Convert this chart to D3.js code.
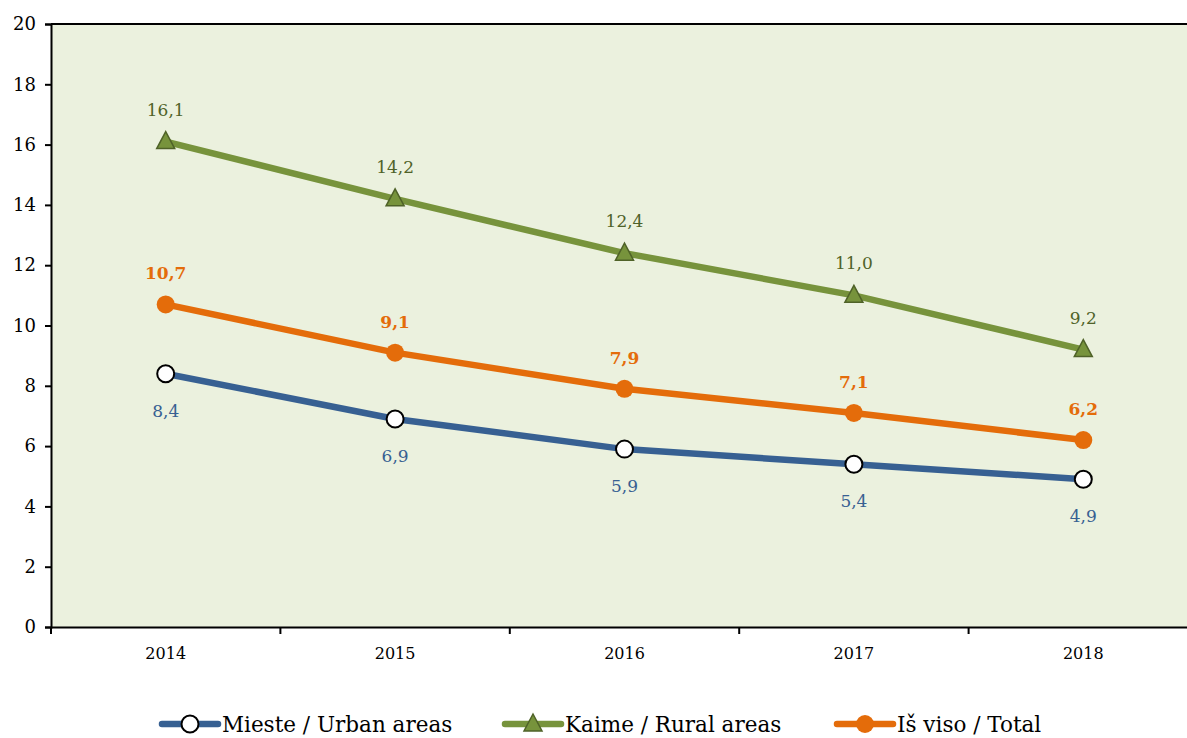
<!DOCTYPE html>
<html>
<head>
<meta charset="utf-8">
<script src="https://cdn.jsdelivr.net/npm/d3@7"></script>
<style>
  body { margin: 0; background: #fff; }
  svg { display: block; }
  svg text { font-family: "DejaVu Serif", "Liberation Serif", serif; }
</style>
</head>
<body>
<svg></svg>
<script>
document.addEventListener("DOMContentLoaded", function() {

    var width = 1187, height = 738;
    var left = 51, top = 24, bottom = 627, right = 1198;

    var years = ["2014", "2015", "2016", "2017", "2018"];
    var urban = [8.4, 6.9, 5.9, 5.4, 4.9];
    var rural = [16.1, 14.2, 12.4, 11.0, 9.2];
    var total = [10.7, 9.1, 7.9, 7.1, 6.2];
    var yTicks = [0, 2, 4, 6, 8, 10, 12, 14, 16, 18, 20];

    var series = [
        { name: "Mieste / Urban areas", values: urban, color: "#376092", label: "#376092", marker: "ring", dy: 43, bold: false },
        { name: "Kaime / Rural areas", values: rural, color: "#77933C", label: "#4F6228", marker: "tri", dy: -26, bold: false },
        { name: "Iš viso / Total", values: total, color: "#E46C0A", label: "#E46C0A", marker: "dot", dy: -25, bold: true }
    ];

    var svg = d3.select("svg").attr("width", width).attr("height", height);

    var x = d3.scaleBand().domain(years).range([left, right]);
    var y = d3.scaleLinear().domain([0, 20]).range([bottom, top]);

    // plot background
    svg.append("rect")
        .attr("x", left).attr("y", top)
        .attr("width", right - left).attr("height", bottom - top)
        .attr("fill", "#EBF1DE");

    svg.append("line")
        .attr("x1", left).attr("x2", right)
        .attr("y1", top).attr("y2", top)
        .attr("stroke", "#000").attr("stroke-width", 2);

    // y axis
    var yAxis = svg.append("g")
        .attr("transform", `translate(${left},0)`)
        .call(d3.axisLeft(y).tickValues(yTicks).tickSize(6).tickPadding(9));
    yAxis.select(".domain").attr("stroke-width", 2);
    yAxis.selectAll(".tick line").attr("stroke-width", 2);
    yAxis.selectAll("text").style("font-size", "18px").attr("fill", "#000");

    // x axis with ticks at category boundaries
    var xAxis = svg.append("g")
        .attr("transform", `translate(0,${bottom})`)
        .call(d3.axisBottom(x).tickSize(0).tickPadding(21));
    xAxis.select(".domain").attr("stroke-width", 2);
    xAxis.selectAll("text").style("font-size", "16px").attr("fill", "#000");
    xAxis.selectAll(".bound")
        .data(years)
        .enter().append("line")
        .attr("x1", d => x(d)).attr("x2", d => x(d))
        .attr("y1", 0).attr("y2", 7)
        .attr("stroke", "#000").attr("stroke-width", 2);

    var line = d3.line()
        .x((d, i) => x(years[i]) + x.bandwidth() / 2)
        .y(d => y(d));

    function drawMarker(g, type, color, cx, cy) {
        if (type === "ring") {
            g.append("circle").attr("cx", cx).attr("cy", cy).attr("r", 8.5)
                .attr("fill", "#fff").attr("stroke", "#000").attr("stroke-width", 2);
        } else if (type === "dot") {
            g.append("circle").attr("cx", cx).attr("cy", cy).attr("r", 9)
                .attr("fill", color);
        } else {
            g.append("path")
                .attr("d", `M${cx},${cy - 10}L${cx + 9},${cy + 7}L${cx - 9},${cy + 7}Z`)
                .attr("fill", color).attr("stroke", "#4F6228").attr("stroke-width", 1.5);
        }
    }

    series.forEach(function(s) {
        var g = svg.append("g");
        g.append("path")
            .datum(s.values)
            .attr("d", line)
            .attr("fill", "none")
            .attr("stroke", s.color)
            .attr("stroke-width", 6.5);
        s.values.forEach(function(v, i) {
            var cx = x(years[i]) + x.bandwidth() / 2;
            drawMarker(g, s.marker, s.color, cx, y(v));
            g.append("text")
                .attr("x", cx).attr("y", y(v) + s.dy)
                .attr("text-anchor", "middle")
                .style("font-size", "17px")
                .style("font-weight", s.bold ? "bold" : "normal")
                .attr("fill", s.label)
                .text(v.toFixed(1).replace(".", ","));
        });
    });

    // legend
    var legendX = [162, 505, 837];
    var legend = svg.append("g");
    series.forEach(function(s, i) {
        var lx = legendX[i], ly = 724;
        legend.append("line")
            .attr("x1", lx).attr("x2", lx + 56)
            .attr("y1", ly).attr("y2", ly)
            .attr("stroke", s.color).attr("stroke-width", 6.5)
            .attr("stroke-linecap", "round");
        drawMarker(legend, s.marker, s.color, lx + 28, ly);
        legend.append("text")
            .attr("x", lx + 60).attr("y", ly + 8)
            .style("font-size", "21.5px")
            .attr("fill", "#000")
            .text(s.name);
    });
});
</script>
</body>
</html>
